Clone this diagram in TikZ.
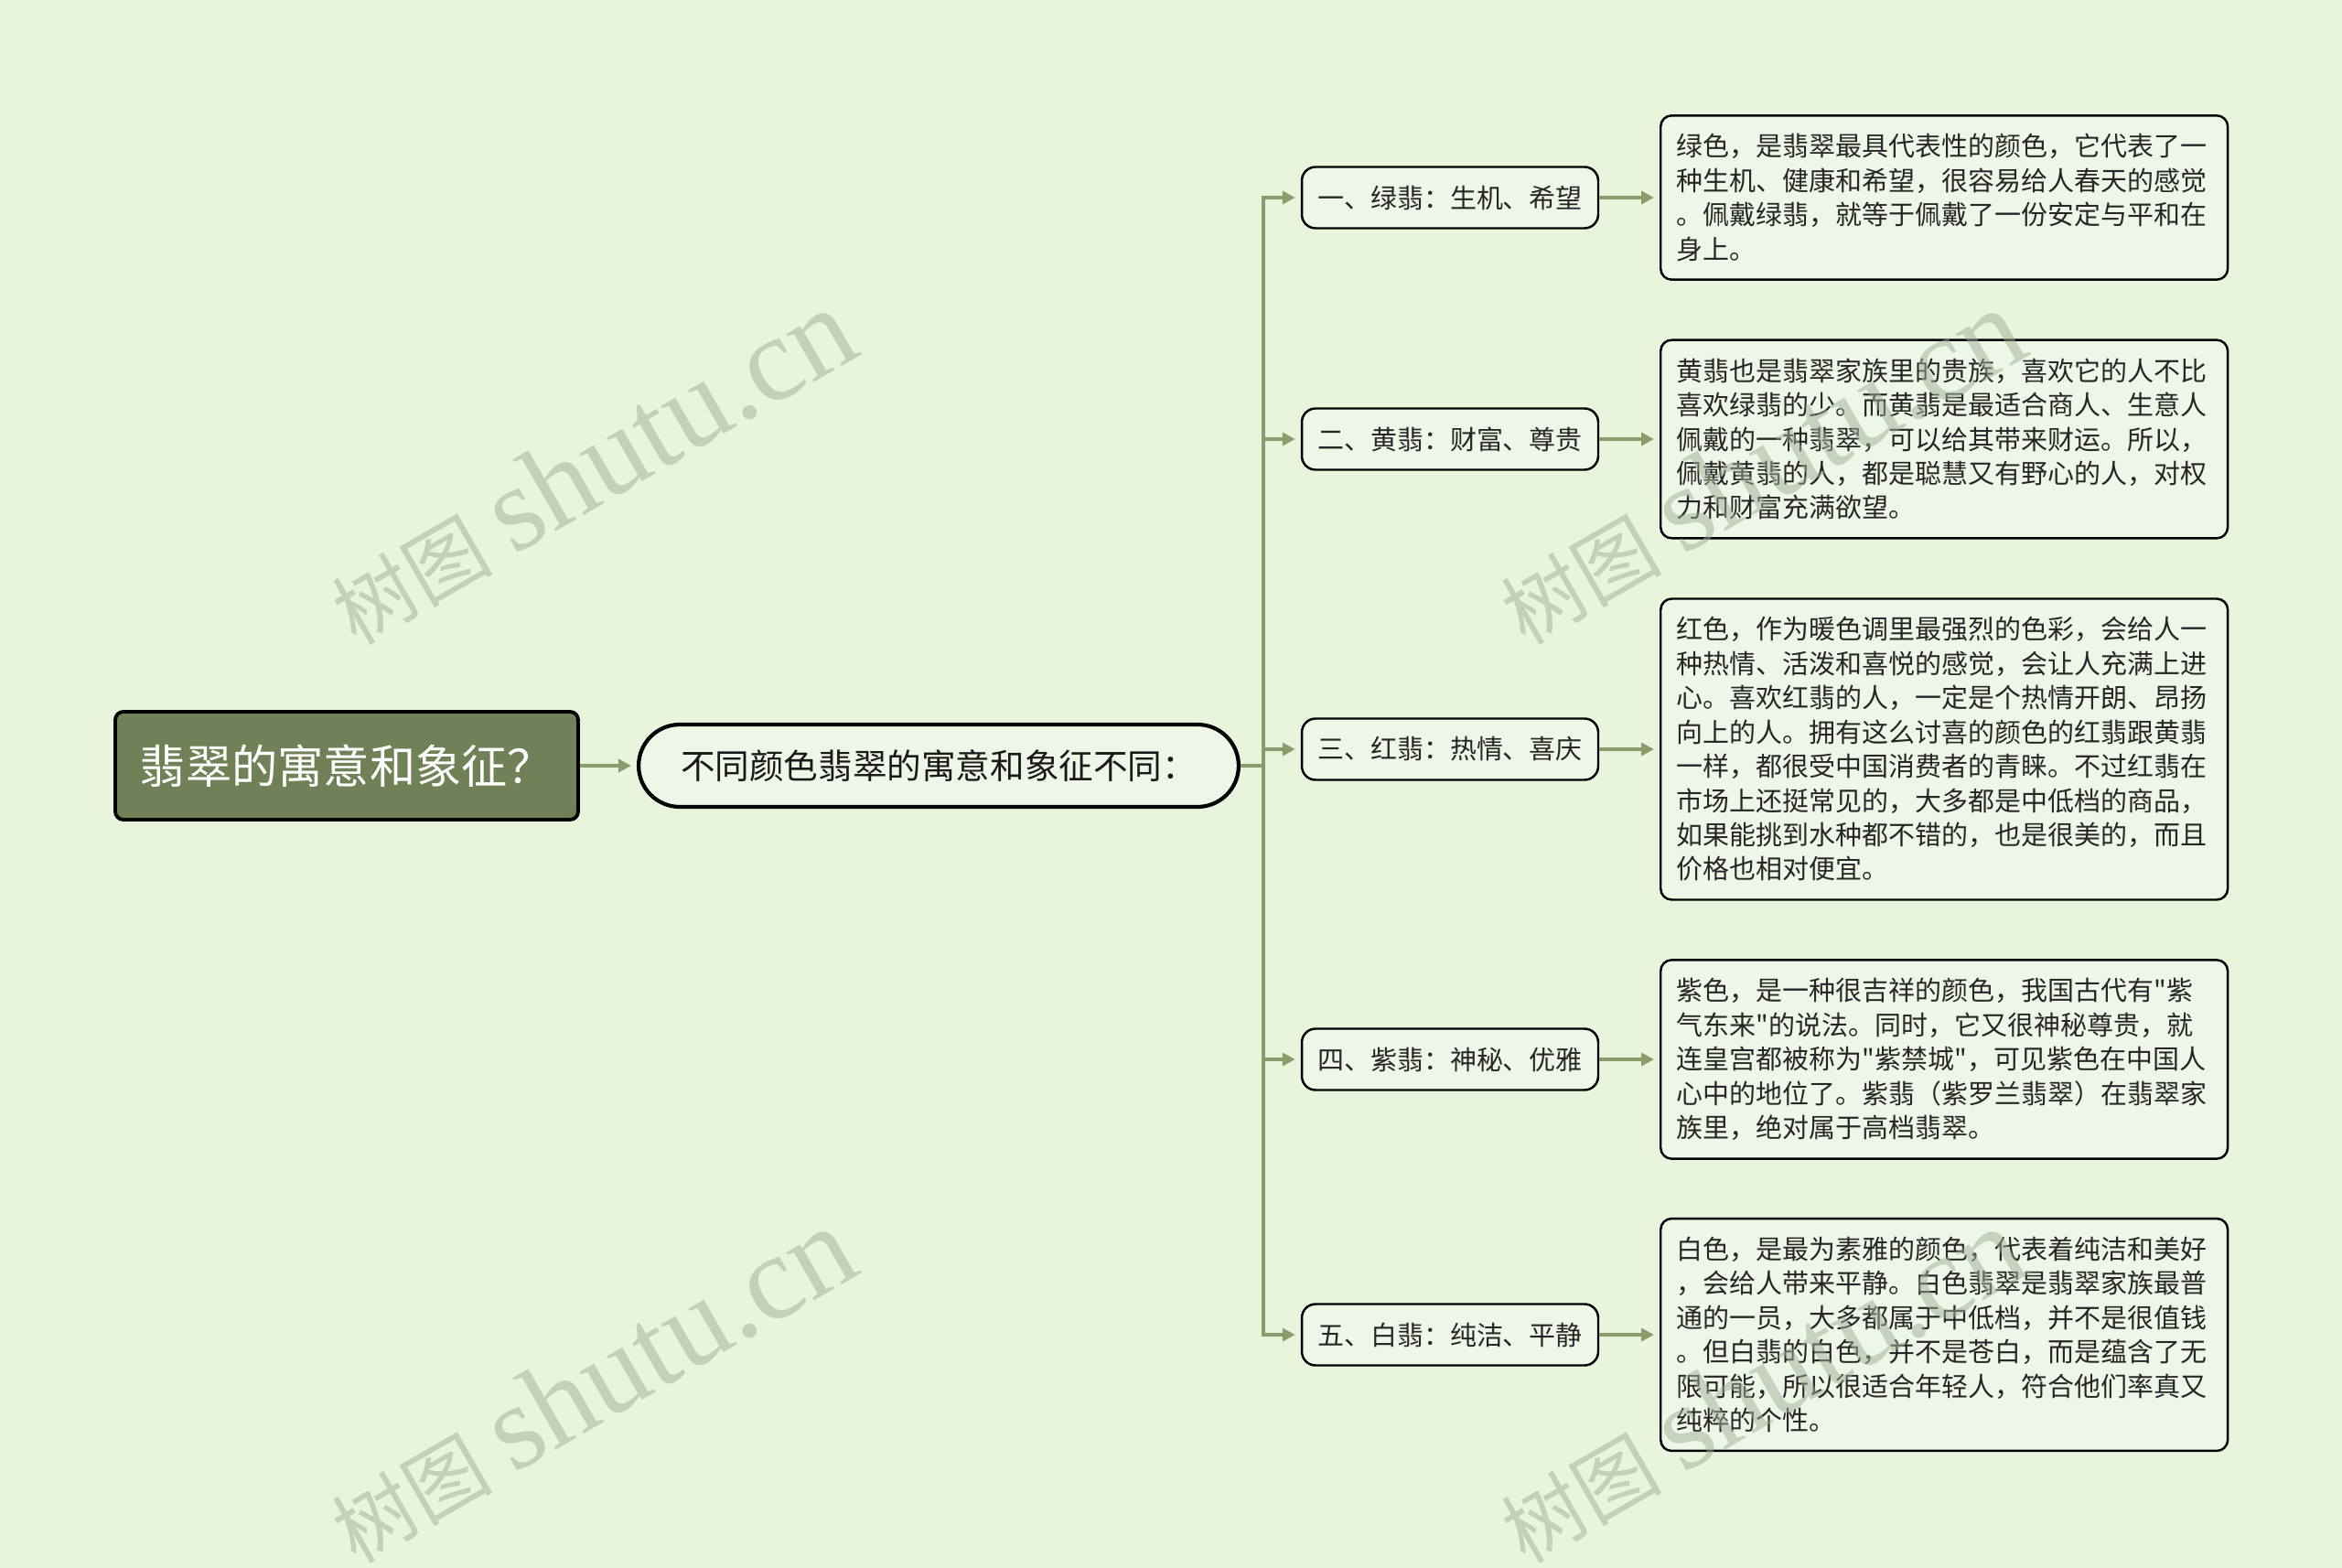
\documentclass[tikz,border=0pt]{standalone}
\usepackage{fontspec}
\setmainfont{Noto Sans CJK SC}[Ligatures=TeXOff]
\newfontfamily\wmfont{Liberation Serif}
\usepackage{tikz}
\usetikzlibrary{positioning}
\usetikzlibrary{arrows.meta,shapes}
\usetikzlibrary{calc}
\definecolor{bgcol}{HTML}{E8F5DC}
\definecolor{linecol}{HTML}{8B9B6C}
\definecolor{rootcol}{HTML}{718157}
\definecolor{boxcol}{HTML}{EEF7E7}
\definecolor{markcol}{HTML}{A2AF96}
\tikzstyle{rootbox}=[rectangle,rounded corners=5pt,fill=rootcol,draw=black,line width=2.2pt,minimum width=10.12cm,minimum height=2.36cm,text=white,font=\fontsize{28.6}{32}\selectfont]
\tikzstyle{topicbox}=[rectangle,rounded corners=0.9cm,fill=boxcol,draw=black,line width=2.4pt,minimum width=13.12cm,minimum height=1.8cm,text=black!90,font=\fontsize{21.4}{25}\selectfont]
\tikzstyle{branchbox}=[rectangle,rounded corners=0.3cm,fill=boxcol,draw=black,line width=1.4pt,minimum width=6.48cm,minimum height=1.34cm,text=black!85,font=\fontsize{16.5}{20}\selectfont]
\tikzstyle{detailbox}=[rectangle,rounded corners=0.24cm,fill=boxcol,draw=black,line width=1.4pt,text width=11.7cm,inner xsep=0.35cm,inner ysep=0.4cm,align=left,anchor=west,text=black!85,font=\fontsize{16.5}{21.3}\selectfont]
\tikzstyle{edge}=[draw,linecol,line width=2.3pt,-{Triangle[length=0.28cm,width=0.28cm]},shorten >=0.12cm]
\tikzstyle{wmark}=[text=markcol,opacity=0.5,rotate=30,inner sep=0pt]

\begin{document}
\begin{tikzpicture}[scale=1., auto,swap]

  \def\u{0.02};

  \fill[bgcol] (0,0) rectangle (2560*\u, -1714*\u);
  \useasboundingbox (0,0) rectangle (2560*\u, -1714*\u);

   \node[rootbox] (root) at (379*\u, -837*\u) {翡翠的寓意和象征？};
   \node[topicbox] (topic) at (1026*\u, -837*\u) {不同颜色翡翠的寓意和象征不同：};

   \foreach \x/\y/\name/\label in {1585/216/b1/{一、绿翡：生机、希望}, 1585/480/b2/{二、黄翡：财富、尊贵},
                                   1585/819/b3/{三、红翡：热情、喜庆}, 1585/1158/b4/{四、紫翡：神秘、优雅},
                                   1585/1459/b5/{五、白翡：纯洁、平静}}
          \node[branchbox] (\name) at (\x*\u, -\y*\u) {\label};

   \foreach \x/\y/\name/\label in {
      1814/216/d1/{绿色，是翡翠最具代表性的颜色，它代表了一\\种生机、健康和希望，很容易给人春天的感觉\\。佩戴绿翡，就等于佩戴了一份安定与平和在\\身上。},
      1814/480/d2/{黄翡也是翡翠家族里的贵族，喜欢它的人不比\\喜欢绿翡的少。而黄翡是最适合商人、生意人\\佩戴的一种翡翠，可以给其带来财运。所以，\\佩戴黄翡的人，都是聪慧又有野心的人，对权\\力和财富充满欲望。},
      1814/819/d3/{红色，作为暖色调里最强烈的色彩，会给人一\\种热情、活泼和喜悦的感觉，会让人充满上进\\心。喜欢红翡的人，一定是个热情开朗、昂扬\\向上的人。拥有这么讨喜的颜色的红翡跟黄翡\\一样，都很受中国消费者的青睐。不过红翡在\\市场上还挺常见的，大多都是中低档的商品，\\如果能挑到水种都不错的，也是很美的，而且\\价格也相对便宜。},
      1814/1158/d4/{紫色，是一种很吉祥的颜色，我国古代有"紫\\气东来"的说法。同时，它又很神秘尊贵，就\\连皇宫都被称为"紫禁城"，可见紫色在中国人\\心中的地位了。紫翡（紫罗兰翡翠）在翡翠家\\族里，绝对属于高档翡翠。},
      1814/1459/d5/{白色，是最为素雅的颜色，代表着纯洁和美好\\，会给人带来平静。白色翡翠是翡翠家族最普\\通的一员，大多都属于中低档，并不是很值钱\\。但白翡的白色，并不是苍白，而是蕴含了无\\限可能，所以很适合年轻人，符合他们率真又\\纯粹的个性。}}
          \node[detailbox] (\name) at (\x*\u, -\y*\u) {\label};

   \draw[edge] (root) -- (topic);

  \foreach \n in {1,...,5}
  {
         \draw[edge] (topic.east) -- ++(25*\u, 0) |- (b\n.west);
         \draw[edge] (b\n) -- (d\n);
  }

%  watermarks
   \foreach \x/\y/\name in {646/510/wm1, 646/1514/wm2, 1924/510/wm3, 1924/1514/wm4}
          \node[wmark] (\name) at (\x*\u, -\y*\u) {{\fontsize{50}{50}\selectfont 树图}\hspace{0.45cm}{\wmfont\fontsize{75}{75}\selectfont shutu.cn}};

   \end{tikzpicture}
\end{document}
